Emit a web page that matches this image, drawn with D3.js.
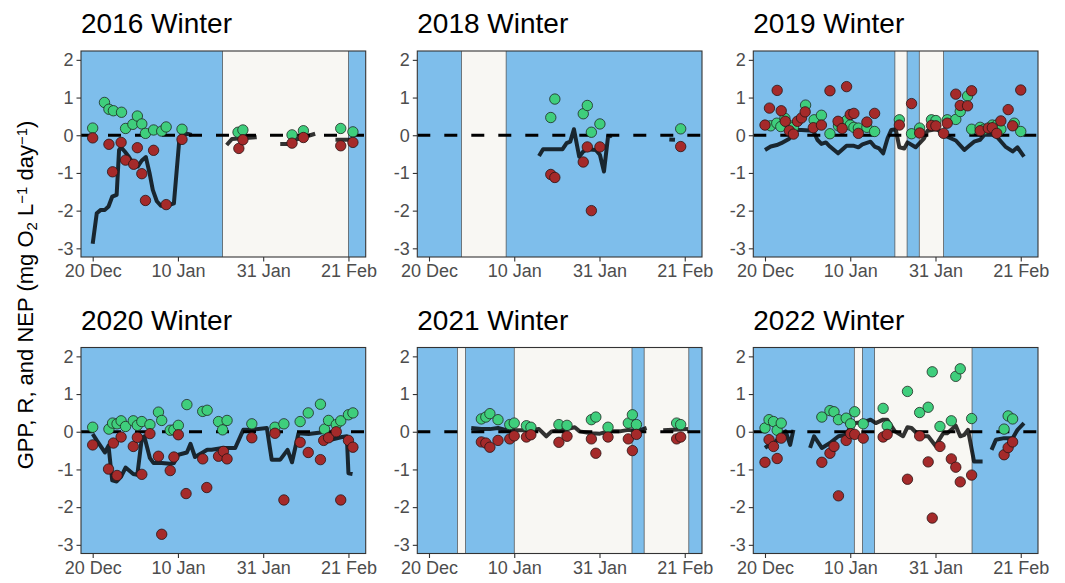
<!DOCTYPE html>
<html>
<head>
<meta charset="utf-8">
<script src="https://cdn.jsdelivr.net/npm/d3@7"></script>
<style>
  html, body { margin: 0; padding: 0; background: #ffffff; }
  svg { display: block; font-family: "Liberation Sans", Arial, sans-serif; }
</style>
</head>
<body>
<svg id="chart" width="1065" height="583"></svg>
<script>
// Daily metabolism per winter: x = days since 20 Dec, y = mg O2 L-1 day-1
const tickDays = [0, 21, 42, 63];
const tickLabels = ["20 Dec", "10 Jan", "31 Jan", "21 Feb"];
const yTicks = [2, 1, 0, -1, -2, -3];
const titles = ["2016 Winter", "2018 Winter", "2019 Winter", "2020 Winter", "2021 Winter", "2022 Winter"];

// open-water (light) periods, [start day, end day]
const open2016 = [[32, 63]];
const open2018 = [[8, 19]];
const open2019 = [[32, 35], [38, 44]];
const open2020 = [];
const open2021 = [[7, 9], [21, 50], [53, 64]];
const open2022 = [[22, 24], [27, 51]];

// GPP
const gpp2016 = [[0,0.19],[2.9,0.87],[4,0.69],[5.1,0.65],[7.1,0.61],[8.1,0.18],[9.9,0.29],[11,0.51],[12.1,0.3],[13,0.05],[15,0.14],[17,0.11],[18.1,0.22],[22,0.16],[35.8,0.08],[37,0.14],[49.1,0.01],[51.9,0.12],[61.1,0.18],[64.1,0.09]];
const gpp2018 = [[30,0.47],[31,0.96],[38,0.57],[39,0.79],[40,0.08],[42.1,0.3],[62,0.17]];
const gpp2019 = [[1.4,0.25],[2.9,0.32],[3.9,0.23],[4.9,0.45],[6.2,0.25],[7,0.21],[10,0.8],[12.1,0.41],[13.9,0.53],[16,0.04],[18.1,0.25],[20.1,0.39],[21,0.27],[21.9,0.21],[23,0.19],[25.1,0.21],[27,0.1],[33.1,0.41],[36.1,0.04],[38.1,0.19],[41,0.41],[42.1,0.39],[44.9,0.41],[47,0.42],[48.1,0.63],[49.9,1.04],[50.9,0.16],[53,0.21],[54,0.16],[56,0.27],[57.1,0.27],[58.1,0.16],[61.4,0.32],[63,0.1]];
const gpp2020 = [[0,0.12],[4,0.07],[4.9,0.23],[6,0.21],[7,0.29],[8.1,0.14],[10,0.29],[11,0.17],[12.1,0.27],[14.1,0.19],[16.2,0.52],[17,0.3],[19.1,0.04],[20,0.05],[21.1,0.17],[23.2,0.72],[27.1,0.54],[28.2,0.57],[31,0.27],[32,0.05],[33.1,0.3],[39.2,0.21],[44.9,0.12],[47.1,0.21],[51.1,0.27],[53.1,0.5],[56.1,0.73],[57.1,0.07],[58.1,0.3],[60,0.19],[61.1,0.29],[63,0.45],[64.1,0.5]];
const gpp2021 = [[12.9,0.34],[14,0.39],[15,0.48],[17,0.32],[19.9,0.19],[21,0.23],[24,0.16],[25.1,0.12],[32,0.19],[34,0.17],[40,0.32],[41.1,0.39],[44.1,0.12],[49.1,0.23],[50.1,0.45],[51.1,0.19],[61,0.23],[62,0.19]];
const gpp2022 = [[0,0.1],[1,0.32],[2.1,0.27],[3,0.04],[4,0.23],[14,0.39],[16,0.56],[17,0.53],[18.1,0.32],[20,0.36],[21.1,0.21],[22.1,0.53],[24.2,0.21],[29.1,0.62],[30.1,0.16],[35.1,1.07],[38.1,0.51],[40.2,0.65],[41.2,1.59],[43.1,0.14],[45.9,0.29],[47,1.47],[48.1,1.67],[50.9,0.35],[58.9,0.07],[59.9,0.42],[61,0.34]];

// R
const r2016 = [[0,-0.07],[4,-0.24],[4.9,-0.97],[7,-0.19],[8.1,-0.66],[10.1,-0.77],[11,-0.33],[12.1,-1.02],[13,-1.73],[15,-0.4],[18.1,-1.84],[22,-0.11],[36,-0.35],[37,-0.12],[49.1,-0.21],[51.9,-0.06],[61.1,-0.28],[64.1,-0.19]];
const r2018 = [[30,-1.04],[31,-1.12],[38,-0.71],[39,-0.31],[40,-2],[42.1,-0.31],[62,-0.3]];
const r2019 = [[0,0.27],[1.1,0.72],[3,1.19],[4,0.65],[5,0.37],[6,0.12],[7,0.03],[8,0.37],[9,0.46],[9.9,0.62],[11.9,0.2],[13.9,0.27],[16,1.18],[18,0.37],[19,0.18],[20.1,1.29],[21,0.55],[21.9,0.58],[23,0.05],[25.1,0.35],[27,0.58],[33.1,0.27],[36.1,0.84],[38.1,0.06],[41,0.26],[42.1,0.25],[44,0.05],[44.9,0.32],[47,1.09],[48.1,0.79],[49.9,0.78],[50.9,1.18],[53,0.12],[55,0.19],[56,0.2],[57.1,0.05],[58.1,0.38],[59.9,0.68],[61,0.25],[63,1.2]];
const r2020 = [[0,-0.35],[3.9,-0.99],[5.1,-0.3],[6,-1.16],[7,-0.14],[10,-0.39],[11,-0.15],[12.1,-1.13],[14.1,-0.05],[16.2,-0.65],[17,-2.72],[19.1,-1.03],[20,-0.67],[21.1,-0.08],[23,-1.64],[27.1,-0.72],[28.1,-1.48],[31,-0.65],[32.2,-0.52],[33.1,-0.72],[39.2,-0.16],[44.9,-0.04],[47.1,-1.81],[51.1,-0.28],[53.1,-0.55],[56.1,-0.74],[56.9,-0.23],[58.1,-0.16],[60,0],[61.1,-1.81],[63,-0.23],[64.1,-0.41]];
const r2021 = [[12.9,-0.27],[14,-0.3],[15,-0.41],[17,-0.23],[19.9,-0.19],[21,-0.11],[24,-0.14],[25.1,-0.08],[32,-0.28],[34,-0.12],[40,-0.19],[41.1,-0.57],[44.1,-0.14],[49.1,-0.19],[50.1,-0.5],[51.1,-0.07],[61,-0.19],[62,-0.14]];
const r2022 = [[0,-0.81],[1,-0.21],[2.1,-0.39],[3,-0.71],[4,-0.17],[14,-0.81],[16,-0.57],[17,-0.39],[18.1,-1.7],[20,-0.23],[21.1,-0.05],[22.1,-0.07],[24.2,-0.17],[29.1,-0.14],[30.1,-0.07],[35.1,-1.26],[38.1,-0.11],[40.2,-0.8],[41.2,-2.29],[43.1,-0.39],[45.9,-0.72],[47,-0.94],[48.1,-1.33],[50.9,-1.15],[58.9,-0.61],[59.9,-0.42],[61,-0.27]];

// NEP (null breaks the line where data are missing)
const nep2016 = [[0,-2.88],[1,-2.07],[2,-1.98],[3,-1.98],[3.9,-1.89],[4.8,-1.63],[5.9,-1.58],[6.5,-0.39],[7,-0.32],[7.9,-0.43],[8.9,-0.57],[10.1,-0.77],[11.1,-0.83],[12.1,-0.67],[13.1,-0.58],[14,-1.0],[14.8,-1.45],[15.8,-1.75],[16.8,-1.87],[18.1,-1.88],[20,-1.81],[21.3,-0.17],[21.9,0],[23.2,0.04],[24.4,0.01],null,[33,-0.26],[34.3,-0.1],[40.4,-0.05],null,[46.2,-0.23],[48.2,-0.23],[49.9,-0.12],[54.8,0.04],null,[59.8,-0.12],[64.7,-0.12]];
const nep2018 = [[27.1,-0.55],[28.1,-0.37],[32.9,-0.37],[33.9,-0.21],[34.8,-0.17],[35.7,0.16],[37,-0.57],[38,-0.43],[39,-0.37],[41.1,-0.39],[42.1,-0.52],[43.1,-0.96],[44.1,-0.04],[45,-0.01],null,[59.2,-0.11],[60.6,-0.12]];
const nep2019 = [[0,-0.39],[1.4,-0.3],[2.9,-0.26],[4,-0.21],[6,-0.09],[7,0.05],[8,0.14],[9,0.14],[11.9,0.12],[12.9,-0.12],[13.9,-0.23],[15,-0.19],[16,-0.3],[18,-0.48],[20.1,-0.28],[21.9,-0.28],[23,-0.32],[24,-0.24],[26,-0.17],[27,-0.3],[28.1,-0.35],[29.1,-0.48],[30.2,-0.08],[31.1,0.14],[32.2,0.16],[33.1,-0.32],[34.3,-0.35],[35.1,-0.19],[37.1,-0.32],[39.2,-0.08],[40,0.12],[42.1,0.16],[42.9,0.12],[44,0.01],[44.9,-0.04],[47,-0.14],[49.1,-0.39],[50.3,-0.28],[51.5,-0.17],[53,-0.12],[54,0.01],[56,0.01],[57.1,-0.04],[59.2,-0.3],[61,-0.43],[62.2,-0.32],[63.8,-0.57]];
const nep2020 = [[0,-0.06],[1,-0.23],[2,-0.39],[3,-0.55],[3.9,-0.37],[4.8,-1.29],[5.9,-1.32],[7,-1.19],[8.1,-0.95],[10,-1.12],[11,-1.14],[12.1,-0.17],[12.7,-0.12],[14.1,-0.7],[15,-0.83],[17,-0.83],[19.1,-0.85],[20,-0.83],[21.1,-0.61],[23.2,-0.55],[24.1,-0.32],[25.2,-0.67],[27.1,-0.55],[28.2,-0.48],[29.3,-0.48],[32,-0.43],[35.1,-0.43],[37.1,0.05],[39.2,0.05],[42.9,0.1],[44.1,-0.74],[46.2,-0.74],[48,-0.48],[49.1,-0.81],[50.7,-0.04],[53.2,-0.06],[56.1,-0.02],[57.1,0.01],[58.9,-0.21],[61.4,-0.14],[62.6,-0.12],[63,-1.1],[64,-1.12]];
const nep2021 = [[10.4,0.1],[12.9,0.07],[15,0.07],[17,0.1],[19.1,0.04],[21,0.04],[24,0.04],[27.1,0.07],[28.9,-0.12],[30.2,0.01],[32,0.04],[34,0.07],[35.9,0.12],[37.1,0.01],[40,-0.04],[42.1,-0.05],[44.1,0.01],[47,0.01],[49.1,0.05],[51.1,0.01],[53.6,0.1],null,[57.7,0.04],[63.8,0.07]];
const nep2022 = [[0,-0.43],[1,-0.35],[2.1,-0.35],[3,-0.21],[4,-0.12],[5.1,0.01],[6.2,-0.35],[7,0.05],null,[11.1,-0.43],[12.1,-0.12],[14,-0.43],[16,-0.3],[18.1,-0.12],[20,-0.08],[21.1,0.14],[22.1,0.23],[24.2,0.25],[26,0.32],[27.3,0.23],[29.1,0.32],[30.1,0.32],[32,0.01],[34,-0.12],[35.1,0.12],[36.1,0.1],[38.1,-0.12],[40.2,-0.12],[42,-0.37],[43.9,-0.04],[44.9,-0.04],[47,0.16],[48.1,-0.12],[49.1,-0.08],[50,0.05],[51.5,-0.79],[53.6,-0.79],null,[55.8,-0.48],[56.9,-0.21],[58.9,-0.17],[61,-0.17],[62.2,0.05],[63.8,0.23]];

const panels = [
  { title: titles[0], open: open2016, gpp: gpp2016, r: r2016, nep: nep2016 },
  { title: titles[1], open: open2018, gpp: gpp2018, r: r2018, nep: nep2018 },
  { title: titles[2], open: open2019, gpp: gpp2019, r: r2019, nep: nep2019 },
  { title: titles[3], open: open2020, gpp: gpp2020, r: r2020, nep: nep2020 },
  { title: titles[4], open: open2021, gpp: gpp2021, r: r2021, nep: nep2021 },
  { title: titles[5], open: open2022, gpp: gpp2022, r: r2022, nep: nep2022 }
];

const svg = d3.select("#chart");
const colX = [81, 417.3, 753.3];
const rowY = [51, 347.5];
const pw = 284.7, ph = 206;

const x = d3.scaleLinear().domain([-2.88, 67.25]).range([0, pw]);
const y = d3.scaleLinear().domain([-3.23, 2.235]).range([ph, 0]);

const line = d3.line()
  .defined(d => d !== null)
  .x(d => x(d[0]))
  .y(d => y(d[1]));

panels.forEach((p, i) => {
  const g = svg.append("g")
    .attr("transform", `translate(${colX[i % 3]},${rowY[Math.floor(i / 3)]})`);

  const clipId = "clip" + i;
  g.append("clipPath").attr("id", clipId)
    .append("rect").attr("width", pw).attr("height", ph);

  const body = g.append("g").attr("clip-path", `url(#${clipId})`);

  body.append("rect")
    .attr("width", pw).attr("height", ph)
    .attr("fill", "#7ebeeb");

  body.selectAll("rect.open").data(p.open).join("rect")
    .attr("class", "open")
    .attr("x", d => x(d[0]))
    .attr("width", d => x(d[1]) - x(d[0]))
    .attr("y", -2).attr("height", ph + 4)
    .attr("fill", "#f8f7f3")
    .attr("stroke", "#4a4a4a").attr("stroke-width", 0.7);

  body.append("line")
    .attr("x1", 0).attr("x2", pw)
    .attr("y1", y(0)).attr("y2", y(0))
    .attr("stroke", "#000").attr("stroke-width", 3.2)
    .attr("stroke-dasharray", "13 14");

  body.append("path")
    .datum(p.nep)
    .attr("d", line)
    .attr("fill", "none")
    .attr("stroke", "#000").attr("stroke-opacity", 0.8)
    .attr("stroke-width", 4)
    .attr("stroke-linejoin", "round");

  body.selectAll("circle.gpp").data(p.gpp).join("circle")
    .attr("class", "gpp")
    .attr("cx", d => x(d[0])).attr("cy", d => y(d[1])).attr("r", 5.2)
    .attr("fill", "#3fce7c").attr("stroke", "#1e2a22").attr("stroke-width", 0.8);

  body.selectAll("circle.r").data(p.r).join("circle")
    .attr("class", "r")
    .attr("cx", d => x(d[0])).attr("cy", d => y(d[1])).attr("r", 5.2)
    .attr("fill", "#a52a2a").attr("stroke", "#2a1414").attr("stroke-width", 0.8);

  g.append("rect")
    .attr("width", pw).attr("height", ph)
    .attr("fill", "none").attr("stroke", "#333").attr("stroke-width", 1.1);

  // axes
  const xAxis = d3.axisBottom(x).tickValues(tickDays)
    .tickFormat((d, k) => tickLabels[k]).tickSize(4.5).tickPadding(3);
  const yAxis = d3.axisLeft(y).tickValues(yTicks)
    .tickFormat(d => d < 0 ? "-" + Math.abs(d) : String(d)).tickSize(4.5).tickPadding(3);

  const gx = g.append("g").attr("transform", `translate(0,${ph})`).call(xAxis);
  const gy = g.append("g").call(yAxis);
  [gx, gy].forEach(a => {
    a.select(".domain").remove();
    a.selectAll(".tick line").attr("stroke", "#333").attr("stroke-width", 1.1);
    a.selectAll(".tick text").attr("fill", "#4d4d4d")
      .style("font-size", "18px")
      .style("font-family", "'Liberation Sans', Arial, sans-serif");
  });

  g.append("text")
    .attr("x", 0).attr("y", -18)
    .attr("fill", "#000")
    .style("font-size", "28px")
    .text(p.title);
});

// shared y-axis title
const yt = svg.append("text")
  .attr("transform", "translate(33,295) rotate(-90)")
  .attr("text-anchor", "middle")
  .attr("fill", "#000")
  .style("font-size", "22px");
yt.append("tspan").text("GPP, R, and NEP (mg O");
yt.append("tspan").attr("baseline-shift", "-25%").style("font-size", "15px").text("2");
yt.append("tspan").text(" L");
yt.append("tspan").attr("baseline-shift", "40%").style("font-size", "15px").text("\u22121");
yt.append("tspan").text(" day");
yt.append("tspan").attr("baseline-shift", "40%").style("font-size", "15px").text("\u22121");
yt.append("tspan").text(")");
</script>
</body>
</html>
